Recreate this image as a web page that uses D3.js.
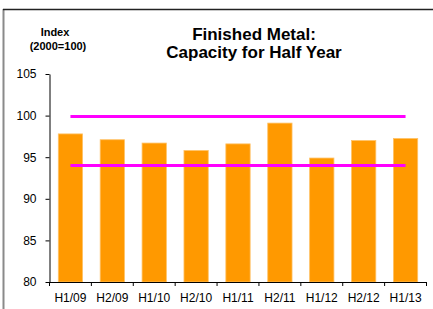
<!DOCTYPE html>
<html>
<head>
<meta charset="utf-8">
<script src="https://cdn.jsdelivr.net/npm/d3@7"></script>
<style>
  body { margin: 0; background: #fff; }
  text { font-family: Arial, "Liberation Sans", sans-serif; }
</style>
</head>
<body>
<svg id="chart" width="433" height="309"></svg>
<script>
// half-year periods
var periods = ["H1/09", "H2/09", "H1/10", "H2/10", "H1/11", "H2/11", "H1/12", "H2/12", "H1/13"];
// capacity index (2000=100)
var capacity = [97.8, 97.1, 96.7, 95.8, 96.6, 99.1, 94.9, 97.0, 97.25];
// reference lines (upper / lower)
var refLines = [99.9, 94.0];
var yTicks = [80, 85, 90, 95, 100, 105];

var svg = d3.select("#chart");

// frame
svg.append("line").attr("x1", 3.5).attr("x2", 3.5).attr("y1", 9).attr("y2", 309)
    .attr("stroke", "#8a8a8a").attr("stroke-width", 2);
svg.append("line").attr("x1", 3).attr("x2", 433).attr("y1", 9.5).attr("y2", 9.5)
    .attr("stroke", "#222").attr("stroke-width", 1.5);

var plotLeft = 49.5, plotRight = 426.5, plotTop = 74, plotBottom = 282;

var x = d3.scaleBand().domain(periods).range([plotLeft, plotRight]).padding(0);
var y = d3.scaleLinear().domain([80, 105]).range([plotBottom, plotTop]);

var barPad = 0.21;

// bars
svg.append("g").selectAll("rect")
    .data(capacity)
    .enter()
    .append("rect")
    .attr("x", function(d, i) { return x(periods[i]) + x.bandwidth() * barPad; })
    .attr("width", x.bandwidth() * (1 - 2 * barPad))
    .attr("y", function(d) { return y(d); })
    .attr("height", function(d) { return y(80) - y(d); })
    .attr("fill", "#ff9900")
    .attr("stroke", "#ffc266")
    .attr("stroke-width", 0.8);

// magenta reference lines, from first bar centre to last bar centre
var x0 = x(periods[0]) + x.bandwidth() / 2;
var x1 = x(periods[periods.length - 1]) + x.bandwidth() / 2;
svg.append("g").selectAll("line")
    .data(refLines)
    .enter()
    .append("line")
    .attr("x1", x0).attr("x2", x1)
    .attr("y1", function(d) { return y(d); })
    .attr("y2", function(d) { return y(d); })
    .attr("stroke", "#ff00ff")
    .attr("stroke-width", 3);

// y axis
var yAxis = svg.append("g")
    .attr("transform", "translate(" + plotLeft + ",0)")
    .call(d3.axisLeft(y).tickValues(yTicks).tickSize(4).tickPadding(9).tickSizeOuter(0));
yAxis.selectAll("text").style("font-size", "12px").attr("fill", "#000");

// x axis: labels centred, ticks on band edges
var xAxis = svg.append("g")
    .attr("transform", "translate(0," + plotBottom + ")")
    .call(d3.axisBottom(x).tickSize(0).tickPadding(11).tickSizeOuter(0));
xAxis.selectAll("text").style("font-size", "12px").attr("fill", "#000");
var edges = periods.map(function(p) { return x(p); }).concat([plotRight]);
xAxis.selectAll(".edge")
    .data(edges)
    .enter()
    .append("line")
    .attr("class", "edge")
    .attr("x1", function(d) { return d; }).attr("x2", function(d) { return d; })
    .attr("y1", 0).attr("y2", 4)
    .attr("stroke", "#000");

// titles
svg.append("text").attr("x", 254).attr("y", 40).attr("text-anchor", "middle")
    .style("font-size", "17px").style("font-weight", "bold").text("Finished Metal:");
svg.append("text").attr("x", 254).attr("y", 58).attr("text-anchor", "middle")
    .style("font-size", "17px").style("font-weight", "bold").text("Capacity for Half Year");
svg.append("text").attr("x", 55).attr("y", 36).attr("text-anchor", "middle")
    .style("font-size", "11px").style("font-weight", "bold").text("Index");
svg.append("text").attr("x", 58).attr("y", 50).attr("text-anchor", "middle")
    .style("font-size", "11px").style("font-weight", "bold").text("(2000=100)");
</script>
</body>
</html>
